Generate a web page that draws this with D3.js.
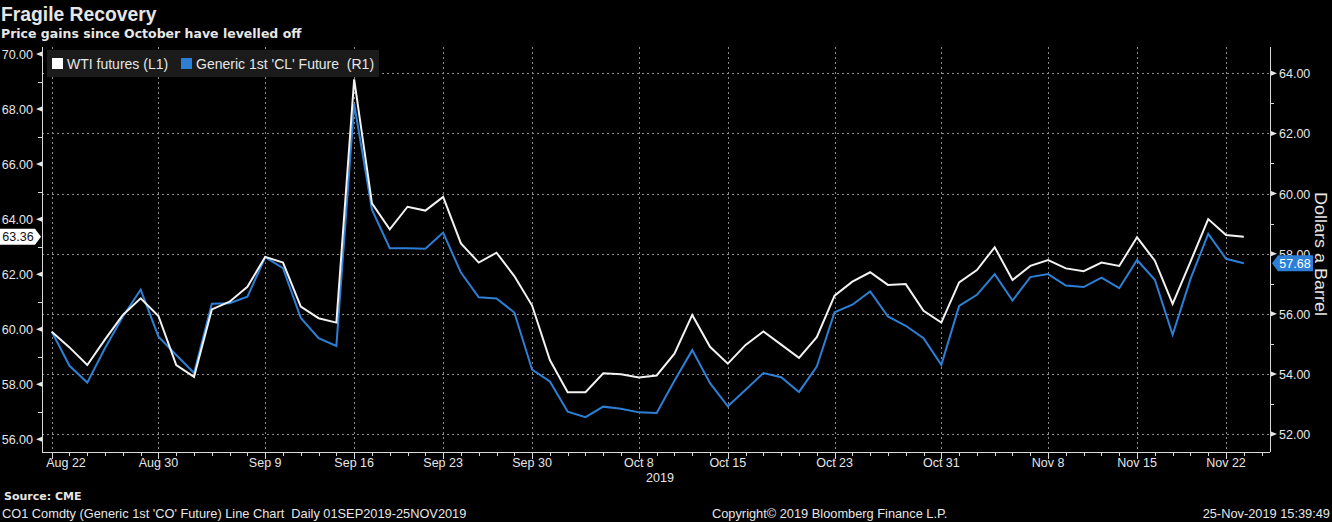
<!DOCTYPE html>
<html>
<head>
<meta charset="utf-8">
<script src="https://cdn.jsdelivr.net/npm/d3@7"></script>
<style>
  html, body { margin: 0; padding: 0; background: #000; }
  svg { display: block; }
  text { font-family: "Liberation Sans", sans-serif; fill: #e6e6e6; }
</style>
</head>
<body>
<div id="chart"></div>
<script>
// business days shown on the chart
var dates = [
  "2019-08-22","2019-08-23","2019-08-26","2019-08-27","2019-08-28","2019-08-29","2019-08-30",
  "2019-09-02","2019-09-03","2019-09-04","2019-09-05","2019-09-06","2019-09-09","2019-09-10",
  "2019-09-11","2019-09-12","2019-09-13","2019-09-16","2019-09-17","2019-09-18","2019-09-19",
  "2019-09-20","2019-09-23","2019-09-24","2019-09-25","2019-09-26","2019-09-27","2019-09-30",
  "2019-10-01","2019-10-02","2019-10-03","2019-10-04","2019-10-07","2019-10-08","2019-10-09",
  "2019-10-10","2019-10-11","2019-10-14","2019-10-15","2019-10-16","2019-10-17","2019-10-18",
  "2019-10-21","2019-10-22","2019-10-23","2019-10-24","2019-10-25","2019-10-28","2019-10-29",
  "2019-10-30","2019-10-31","2019-11-01","2019-11-04","2019-11-05","2019-11-06","2019-11-07",
  "2019-11-08","2019-11-11","2019-11-12","2019-11-13","2019-11-14","2019-11-15","2019-11-18",
  "2019-11-19","2019-11-20","2019-11-21","2019-11-22","2019-11-25"
];

// WTI futures (left axis)
var wti = [
  59.91,59.34,58.70,59.63,60.52,61.12,60.48,58.70,58.27,60.72,61.00,61.54,62.63,62.42,
  60.82,60.40,60.24,69.08,64.57,63.63,64.45,64.31,64.81,63.12,62.42,62.78,61.93,60.86,
  58.88,57.71,57.71,58.40,58.36,58.25,58.32,59.11,60.52,59.36,58.75,59.43,59.92,59.44,
  58.96,59.71,61.22,61.73,62.07,61.61,61.64,60.67,60.24,61.70,62.15,62.98,61.79,62.30,
  62.51,62.21,62.11,62.42,62.30,63.34,62.49,60.92,62.45,64.00,63.42,63.36
];

// Generic 1st 'CL' Future (right axis)
var cl = [
  55.41,54.27,53.71,54.86,55.91,56.80,55.24,54.63,54.03,56.33,56.35,56.57,57.88,57.52,
  55.86,55.19,54.93,62.98,59.46,58.18,58.18,58.16,58.70,57.37,56.55,56.51,56.04,54.14,
  53.75,52.74,52.56,52.91,52.84,52.72,52.70,53.77,54.79,53.69,52.92,53.47,54.03,53.89,
  53.40,54.24,56.05,56.30,56.74,55.91,55.60,55.19,54.30,56.26,56.63,57.32,56.44,57.22,
  57.32,56.94,56.89,57.20,56.85,57.79,57.13,55.30,57.15,58.66,57.83,57.68
];

var tickDates = ["2019-08-22","2019-08-30","2019-09-09","2019-09-16","2019-09-23","2019-09-30",
  "2019-10-08","2019-10-15","2019-10-23","2019-10-31","2019-11-08","2019-11-15","2019-11-22"];
var tickLabels = ["Aug 22","Aug 30","Sep 9","Sep 16","Sep 23","Sep 30",
  "Oct 8","Oct 15","Oct 23","Oct 31","Nov 8","Nov 15","Nov 22"];
var leftTicks = [56, 58, 60, 62, 64, 66, 68, 70];
var rightTicks = [52, 54, 56, 58, 60, 62, 64];

var W = 1332, H = 522;
var plot = {left: 42, right: 1270, top: 47, bottom: 452};
var BLUE = "#2d7fd6";

var svg = d3.select("#chart").append("svg").attr("width", W).attr("height", H);
svg.append("rect").attr("width", W).attr("height", H).attr("fill", "#000");

var x = d3.scaleLinear().domain([0, dates.length - 1]).range([51.7, 1243.8]);
var yL = d3.scaleLinear().domain([56, 70]).range([439.3, 54]);
var yR = d3.scaleLinear().domain([52, 64]).range([434, 73.3]);

var majorIdx = tickDates.map(function(d){ return dates.indexOf(d); });

// titles
svg.append("text").attr("x", 1).attr("y", 21).text("Fragile Recovery")
  .style("font-weight", "bold").style("font-size", "19.3px").attr("fill", "#fff");
svg.append("text").attr("x", 1).attr("y", 38).text("Price gains since October have levelled off")
  .style("font-family", "DejaVu Sans").style("font-weight", "bold").style("font-size", "12.5px").attr("fill", "#fff");

// grid
var grid = svg.append("g").attr("stroke", "#8a8a8a").attr("stroke-width", 1).attr("stroke-dasharray", "2,3");
grid.selectAll("line.h").data(rightTicks).enter().append("line")
  .attr("x1", plot.left).attr("x2", plot.right)
  .attr("y1", function(d){ return Math.round(yR(d)) + 0.5; })
  .attr("y2", function(d){ return Math.round(yR(d)) + 0.5; });
grid.selectAll("line.v").data(majorIdx).enter().append("line")
  .attr("y1", plot.top).attr("y2", plot.bottom)
  .attr("x1", function(d){ return Math.round(x(d)) + 0.5; })
  .attr("x2", function(d){ return Math.round(x(d)) + 0.5; });

// legend
var lg = svg.append("g");
lg.append("rect").attr("x", 47).attr("y", 50).attr("width", 332).attr("height", 27).attr("fill", "#1b1b1b");
lg.append("rect").attr("x", 52).attr("y", 58).attr("width", 11).attr("height", 11).attr("fill", "#fff");
lg.append("text").attr("x", 67).attr("y", 69).style("font-size", "14px").text("WTI futures (L1)");
lg.append("rect").attr("x", 181).attr("y", 58).attr("width", 11).attr("height", 11).attr("fill", BLUE);
lg.append("text").attr("x", 196).attr("y", 69).style("font-size", "14px").text("Generic 1st 'CL' Future\u00a0\u00a0(R1)");

// lines
var lineL = d3.line().x(function(d, i){ return x(i); }).y(function(d){ return yL(d); });
var lineR = d3.line().x(function(d, i){ return x(i); }).y(function(d){ return yR(d); });
svg.append("path").datum(cl).attr("d", lineR).attr("fill", "none").attr("stroke", BLUE).attr("stroke-width", 2);
svg.append("path").datum(wti).attr("d", lineL).attr("fill", "none").attr("stroke", "#f2f2f2").attr("stroke-width", 2);

// axes lines
var ax = svg.append("g").attr("stroke", "#d8d8d8").attr("stroke-width", 1);
ax.append("line").attr("x1", plot.left + 0.5).attr("x2", plot.left + 0.5).attr("y1", plot.top).attr("y2", plot.bottom);
ax.append("line").attr("x1", plot.right + 0.5).attr("x2", plot.right + 0.5).attr("y1", plot.top).attr("y2", plot.bottom);
ax.append("line").attr("x1", plot.left).attr("x2", plot.right).attr("y1", plot.bottom + 0.5).attr("y2", plot.bottom + 0.5);

// left axis ticks
var leftMinor = d3.range(57, 70, 2);
ax.selectAll("line.lm").data(leftMinor).enter().append("line")
  .attr("x1", plot.left - 4).attr("x2", plot.left)
  .attr("y1", function(d){ return Math.round(yL(d)) + 0.5; })
  .attr("y2", function(d){ return Math.round(yL(d)) + 0.5; });
svg.selectAll("path.lt").data(leftTicks).enter().append("path")
  .attr("fill", "#e6e6e6")
  .attr("d", function(d){ var y = yL(d); return "M" + (plot.left) + "," + (y - 2.5) + "L" + (plot.left - 6) + "," + y + "L" + plot.left + "," + (y + 2.5) + "Z"; });
svg.selectAll("text.lt").data(leftTicks).enter().append("text")
  .attr("x", 33).attr("y", function(d){ return yL(d) + 5; })
  .attr("text-anchor", "end").style("font-size", "12.5px")
  .text(function(d){ return d3.format(".2f")(d); });

// right axis ticks
var rightMinor = d3.range(53, 64, 2);
ax.selectAll("line.rm").data(rightMinor).enter().append("line")
  .attr("x1", plot.right).attr("x2", plot.right + 4)
  .attr("y1", function(d){ return Math.round(yR(d)) + 0.5; })
  .attr("y2", function(d){ return Math.round(yR(d)) + 0.5; });
svg.selectAll("path.rt").data(rightTicks).enter().append("path")
  .attr("fill", "#e6e6e6")
  .attr("d", function(d){ var y = yR(d); return "M" + (plot.right + 1) + "," + (y - 2.5) + "L" + (plot.right + 7) + "," + y + "L" + (plot.right + 1) + "," + (y + 2.5) + "Z"; });
svg.selectAll("text.rt").data(rightTicks).enter().append("text")
  .attr("x", 1279).attr("y", function(d){ return yR(d) + 5; })
  .style("font-size", "12.5px")
  .text(function(d){ return d3.format(".2f")(d); });

svg.append("text").attr("transform", "translate(1315," + 254 + ") rotate(90)")
  .attr("text-anchor", "middle").style("font-size", "16.5px")
  .attr("textLength", 124).attr("lengthAdjust", "spacingAndGlyphs")
  .text("Dollars a Barrel");

// x axis ticks
ax.selectAll("line.xm").data(d3.range(0, dates.length + 1)).enter().append("line")
  .attr("y1", plot.bottom).attr("y2", plot.bottom + 4)
  .attr("x1", function(d){ return Math.round(x(d)) + 0.5; })
  .attr("x2", function(d){ return Math.round(x(d)) + 0.5; });
ax.selectAll("line.xM").data(majorIdx).enter().append("line")
  .attr("y1", plot.bottom).attr("y2", plot.bottom + 7)
  .attr("x1", function(d){ return Math.round(x(d)) + 0.5; })
  .attr("x2", function(d){ return Math.round(x(d)) + 0.5; });
svg.selectAll("text.xl").data(majorIdx).enter().append("text")
  .attr("x", function(d, i){ return i === 0 ? 66 : x(d); })
  .attr("y", 467).attr("text-anchor", "middle").style("font-size", "12.5px")
  .text(function(d, i){ return tickLabels[i]; });
svg.append("text").attr("x", 660).attr("y", 482).attr("text-anchor", "middle").style("font-size", "12.5px").text("2019");

// last value flags
var lastL = wti[wti.length - 1], lastR = cl[cl.length - 1];
var fy = yL(lastL);
svg.append("path").attr("fill", "#fff")
  .attr("d", "M0," + (fy - 8) + "L35," + (fy - 8) + "L41," + fy + "L35," + (fy + 8) + "L0," + (fy + 8) + "Z");
svg.append("text").attr("x", 18).attr("y", fy + 4.5).attr("text-anchor", "middle")
  .style("font-size", "12.5px").style("fill", "#111").text(d3.format(".2f")(lastL));
var ry = yR(lastR);
svg.append("path").attr("fill", BLUE)
  .attr("d", "M1272," + ry + "L1278," + (ry - 8) + "L1313," + (ry - 8) + "L1313," + (ry + 8) + "L1278," + (ry + 8) + "Z");
svg.append("text").attr("x", 1295).attr("y", ry + 4.5).attr("text-anchor", "middle")
  .style("font-size", "12.5px").style("fill", "#fff").text(d3.format(".2f")(lastR));

// footer
svg.append("text").attr("x", 4).attr("y", 500).text("Source: CME")
  .style("font-family", "DejaVu Sans").style("font-weight", "bold").style("font-size", "11px").attr("fill", "#fff");
svg.append("text").attr("x", 2).attr("y", 518).style("font-size", "12.8px")
  .text("CO1 Comdty (Generic 1st 'CO' Future) Line Chart\u00a0\u00a0Daily 01SEP2019-25NOV2019");
svg.append("text").attr("x", 712).attr("y", 518).style("font-size", "12.8px")
  .text("Copyright\u00a9 2019 Bloomberg Finance L.P.");
svg.append("text").attr("x", 1330).attr("y", 518).attr("text-anchor", "end").style("font-size", "12.8px")
  .text("25-Nov-2019 15:39:49");
</script>
</body>
</html>
